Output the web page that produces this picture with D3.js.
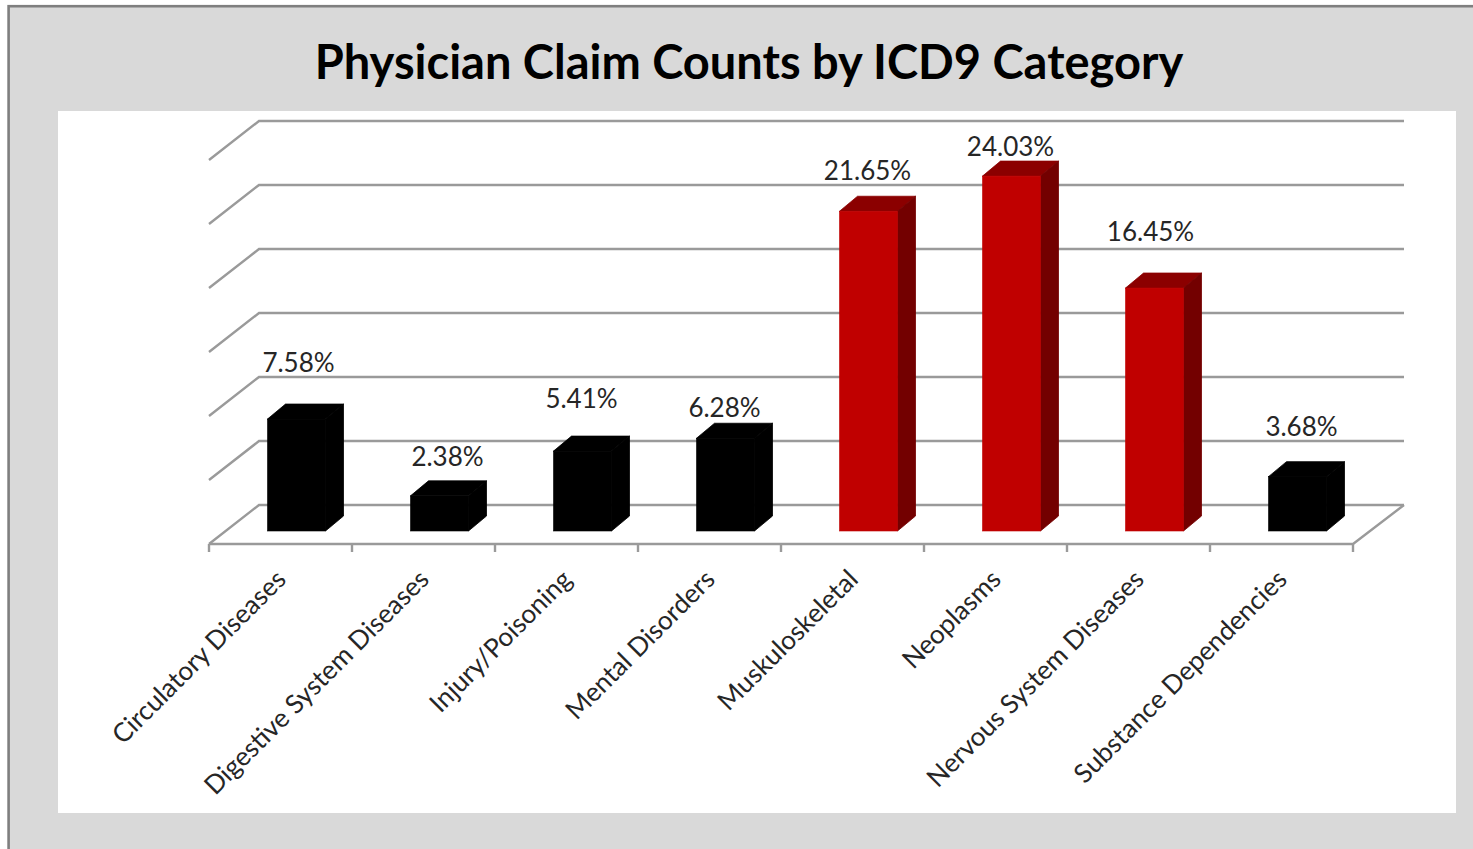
<!DOCTYPE html>
<html>
<head>
<meta charset="utf-8">
<script src="https://cdnjs.cloudflare.com/ajax/libs/d3/7.8.5/d3.min.js"></script>
<style>
  html, body { margin: 0; padding: 0; background: #fff; overflow: hidden; }
  svg { display: block; }
  text { font-family: Lato, "Open Sans", sans-serif; }
</style>
</head>
<body>
<div id="chart"></div>
<script>
const categories = [
  "Circulatory Diseases", "Digestive System Diseases", "Injury/Poisoning", "Mental Disorders",
  "Muskuloskeletal", "Neoplasms", "Nervous System Diseases", "Substance Dependencies"
];
const shares = [7.58, 2.38, 5.41, 6.28, 21.65, 24.03, 16.45, 3.68];
const highlighted = [false, false, false, false, true, true, true, false];
const gridValues = [0, 4.33, 8.67, 13, 17.33, 21.67, 26];
// labels were placed by hand in the original, so each has its own gap above the bar and sideways shift
const labelGaps = [42, 25, 38, 16, 26, 15, 42, 36];
const labelShifts = [2, 8, -1, -1, -1, -1, -4, 4];

const width = 1473, height = 849;
const depth = { x: 50, y: 39 };       // floor depth of the 3d box
const barDepth = { x: 18, y: 15 };
const barInset = { x: 58.5, y: 13 };  // bar front: offset from tick, and up from the floor edge

const svg = d3.select("#chart").append("svg").attr("width", width).attr("height", height);

svg.append("rect").attr("width", width).attr("height", height).attr("fill", "#fff");
svg.append("rect").attr("x", 8.6).attr("y", 6.2).attr("width", width).attr("height", height)
  .attr("fill", "#d9d9d9").attr("stroke", "#7f7f7f").attr("stroke-width", 2.6);
svg.append("rect").attr("x", 58).attr("y", 111).attr("width", 1398).attr("height", 702).attr("fill", "#fff");

svg.append("text").attr("x", 749).attr("y", 79).attr("text-anchor", "middle")
  .attr("font-size", 47).attr("font-weight", 700).attr("fill", "#000")
  .text("Physician Claim Counts by ICD9 Category");

const x = d3.scaleBand().domain(categories).range([209, 1353]);
const y = d3.scaleLinear().domain([0, 26]).range([505, 121]);
const floorFront = y(0) + depth.y;
const gridColor = "#9a9a9a";

const grid = svg.append("g").attr("fill", "none").attr("stroke", gridColor).attr("stroke-width", 2.4);
gridValues.forEach(v => {
  grid.append("path").attr("d", d3.line()([
    [x.range()[0], y(v) + depth.y],
    [x.range()[0] + depth.x, y(v)],
    [x.range()[1] + depth.x + 1, y(v)]
  ]));
});
// front floor edge and the right edge
grid.append("path").attr("d", d3.line()([
  [x.range()[0], floorFront], [x.range()[1], floorFront], [x.range()[1] + depth.x + 1, y(0)]
]));
d3.range(categories.length + 1).forEach(i => {
  const tx = x.range()[0] + i * x.step();
  grid.append("line").attr("x1", tx).attr("x2", tx).attr("y1", floorFront).attr("y2", floorFront + 8);
});

const barW = 58;
const barX = d => x(d) + barInset.x;
const front = floorFront - barInset.y;
const h = v => y(0) - y(v);
const poly = pts => pts.map(p => p.join(",")).join(" ");
const topColor = i => highlighted[i] ? "#8b0000" : "#000";
const sideColor = i => highlighted[i] ? "#730000" : "#000";
const frontColor = i => highlighted[i] ? "#c00000" : "#000";

const bars = svg.append("g").selectAll("g").data(categories).join("g");

bars.append("polygon")
  .attr("fill", (d, i) => topColor(i))
  .attr("stroke", (d, i) => topColor(i)).attr("stroke-width", 0.8)
  .attr("points", (d, i) => {
    const l = barX(d), t = front - h(shares[i]);
    return poly([[l, t], [l + barDepth.x, t - barDepth.y], [l + barW + barDepth.x, t - barDepth.y], [l + barW, t]]);
  });
bars.append("polygon")
  .attr("fill", (d, i) => sideColor(i))
  .attr("stroke", (d, i) => sideColor(i)).attr("stroke-width", 0.8)
  .attr("points", (d, i) => {
    const l = barX(d) + barW, t = front - h(shares[i]);
    return poly([[l, t], [l + barDepth.x, t - barDepth.y], [l + barDepth.x, front - barDepth.y], [l, front]]);
  });
bars.append("rect")
  .attr("fill", (d, i) => frontColor(i))
  .attr("stroke", (d, i) => frontColor(i)).attr("stroke-width", 0.6)
  .attr("x", d => barX(d)).attr("width", barW)
  .attr("y", (d, i) => front - h(shares[i])).attr("height", (d, i) => h(shares[i]));

bars.append("text")
  .attr("text-anchor", "middle").attr("font-size", 26).attr("fill", "#262626")
  .attr("x", (d, i) => barX(d) + barW / 2 + labelShifts[i])
  .attr("y", (d, i) => front - h(shares[i]) - barDepth.y - labelGaps[i] + 10)
  .text((d, i) => d3.format(".2f")(shares[i]) + "%");

svg.append("g").selectAll("text").data(categories).join("text")
  .attr("text-anchor", "end").attr("font-size", 26.2).attr("fill", "#262626")
  .attr("transform", d => `translate(${x(d) + x.step() / 2 + 7},${floorFront + 37}) rotate(-45)`)
  .text(d => d);
</script>
</body>
</html>
